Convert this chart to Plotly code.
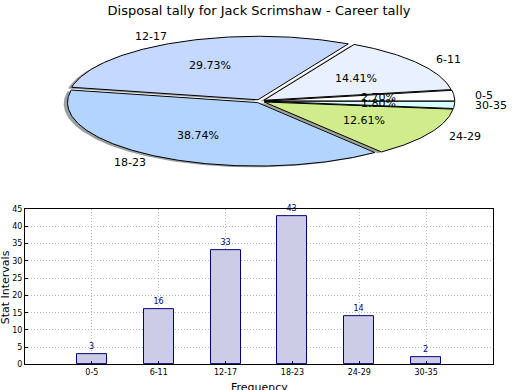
import numpy as np
import plotly.graph_objects as go

# ---- data ----
title = "Disposal tally for Jack Scrimshaw - Career tally"
categories = ["0-5", "6-11", "12-17", "18-23", "24-29", "30-35"]
values = [3, 16, 33, 43, 14, 2]
slice_colors = ["#ffffff", "#e9f0ff", "#c5d8ff", "#b3d4ff", "#d0ec8c", "#d8ffff"]
y_ticks = [0, 5, 10, 15, 20, 25, 30, 35, 40, 45]

FONT = "DejaVu Sans"

# ---- pie geometry (pixel units of the pie axes) ----
cx, cy, rx, ry = 260.0, 99.5, 190.0, 65.0
explode = 0.025
total = float(sum(values))
fracs = [v / total for v in values]

fig = go.Figure()

def hex_rgb(h):
    h = h.lstrip("#")
    return tuple(int(h[i:i + 2], 16) for i in (0, 2, 4))

wedges = []
start = 0.0
for cat, f, col in zip(categories, fracs, slice_colors):
    t1 = start
    t2 = start + 360.0 * f
    mid = np.deg2rad((t1 + t2) / 2)
    dx = explode * rx * np.cos(mid)
    dy = -explode * ry * np.sin(mid)
    n = max(4, int((t2 - t1) * 1.5))
    th = np.deg2rad(np.linspace(t1, t2, n))
    xs = np.concatenate([[cx + dx], cx + dx + rx * np.cos(th), [cx + dx]])
    ys = np.concatenate([[cy + dy], cy + dy - ry * np.sin(th), [cy + dy]])
    wedges.append((cat, f, col, mid, dx, dy, xs, ys))
    start = t2

# shadows first
for cat, f, col, mid, dx, dy, xs, ys in wedges:
    r, g, b = hex_rgb(col)
    shade = "rgba(%d,%d,%d,0.5)" % (int(0.3 * r), int(0.3 * g), int(0.3 * b))
    fig.add_trace(go.Scatter(x=xs - 0.02 * rx, y=ys + 0.02 * ry, mode="lines",
                             fill="toself", fillcolor=shade, line=dict(width=0),
                             xaxis="x2", yaxis="y2", hoverinfo="skip", showlegend=False))

for cat, f, col, mid, dx, dy, xs, ys in wedges:
    fig.add_trace(go.Scatter(x=xs, y=ys, mode="lines", fill="toself", fillcolor=col,
                             line=dict(color="black", width=1),
                             xaxis="x2", yaxis="y2", hoverinfo="skip", showlegend=False))

annotations = []
for cat, f, col, mid, dx, dy, xs, ys in wedges:
    # category label at 1.1 radius
    lx = cx + dx + 1.1 * rx * np.cos(mid)
    ly = cy + dy - 1.1 * ry * np.sin(mid)
    annotations.append(dict(x=lx, y=ly, xref="x2", yref="y2", text=cat, showarrow=False,
                            xanchor="left" if np.cos(mid) > 0 else "right", yanchor="middle",
                            font=dict(family=FONT, size=11, color="black")))
    # percentage at 0.6 radius
    px = cx + dx + 0.6 * rx * np.cos(mid)
    py = cy + dy - 0.6 * ry * np.sin(mid)
    annotations.append(dict(x=px, y=py, xref="x2", yref="y2", text="%.2f%%" % (100 * f),
                            showarrow=False, xanchor="center", yanchor="middle",
                            font=dict(family=FONT, size=11, color="black")))

# ---- bar chart ----
fig.add_trace(go.Bar(x=list(range(len(categories))), y=values, width=0.45,
                     marker=dict(color="#ccccE6", line=dict(color="#000080", width=1)),
                     text=[str(v) for v in values], textposition="outside",
                     textfont=dict(family=FONT, size=8, color="#000080"),
                     cliponaxis=False, xaxis="x", yaxis="y", showlegend=False,
                     hoverinfo="skip"))

annotations.append(dict(x=259 / 520, y=1 - 384 / 390, xref="paper", yref="paper",
                        text="Frequency", showarrow=False, xanchor="center", yanchor="top",
                        font=dict(family=FONT, size=11, color="black")))
annotations.append(dict(x=5 / 520, y=1 - 290 / 390, xref="paper", yref="paper",
                        text="Stat Intervals", showarrow=False, textangle=-90,
                        xanchor="center", yanchor="middle",
                        font=dict(family=FONT, size=11, color="black")))

grid_style = dict(showgrid=True, gridcolor="#b8b8b8", griddash="1px,2px", gridwidth=1)

fig.update_layout(
    width=520, height=390,
    margin=dict(l=0, r=0, t=0, b=0),
    paper_bgcolor="white", plot_bgcolor="white",
    title=dict(text=title, x=259 / 520, xanchor="center", y=1 - 10 / 390, yanchor="middle",
               font=dict(family=FONT, size=13, color="black")),
    annotations=annotations,
    bargap=0,
    xaxis=dict(domain=[25 / 520, 493 / 520], range=[-1, 6],
               tickmode="array", tickvals=list(range(len(categories))), ticktext=categories,
               tickfont=dict(family=FONT, size=8, color="black"),
               showline=True, linecolor="black", linewidth=1, mirror=True,
               ticks="inside", ticklen=3, tickcolor="black", zeroline=False,
               anchor="y", **grid_style),
    yaxis=dict(domain=[1 - 369 / 390, 1 - 210 / 390], range=[0, 45],
               tickmode="array", tickvals=y_ticks,
               tickfont=dict(family=FONT, size=8, color="black"),
               showline=True, linecolor="black", linewidth=1, mirror=True,
               ticks="inside", ticklen=3, tickcolor="black", zeroline=False,
               anchor="x", **grid_style),
    xaxis2=dict(domain=[0, 1], range=[0, 520], visible=False, anchor="y2", fixedrange=True),
    yaxis2=dict(domain=[1 - 195 / 390, 1], range=[195, 0], visible=False, anchor="x2",
                fixedrange=True),
)

fig.write_html("out.html", config={"displayModeBar": False},
               post_script="document.body.style.margin='0';document.body.style.padding='0';")
